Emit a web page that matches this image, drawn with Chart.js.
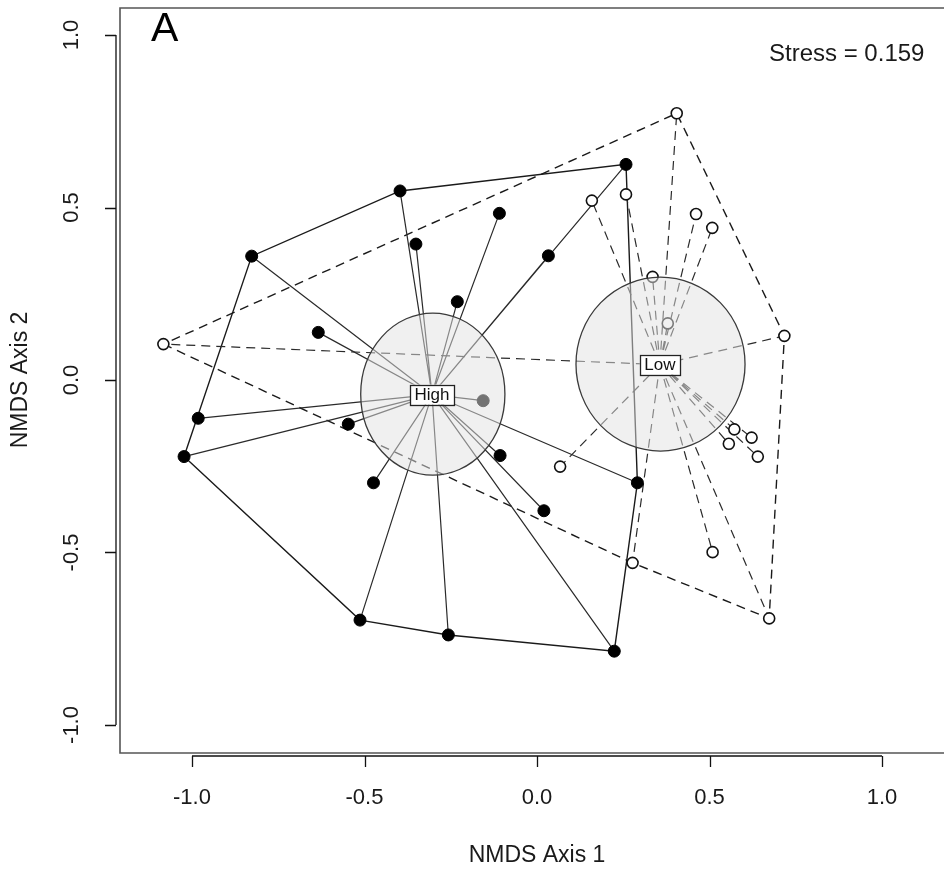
<!DOCTYPE html>
<html>
<head>
<meta charset="utf-8">
<script src="https://cdn.jsdelivr.net/npm/chart.js@4/dist/chart.umd.min.js"></script>
<style>
    html, body { margin: 0; padding: 0; background: #fff; overflow: hidden; }
    canvas { display: block; }
</style>
</head>
<body>
<canvas id="graficoNmds" width="944" height="873"></canvas>
<script>
// Valores (coordenadas NMDS)
const grupos = ['High', 'Low'];

const altoX = [-0.397, -0.827, -0.351, -0.109, -0.231, -0.634, 0.258, 0.033, -0.982, -1.023,
    -0.547, -0.474, -0.513, -0.257, -0.107, 0.291, 0.020, 0.224, -0.156];
const altoY = [0.548, 0.359, 0.394, 0.483, 0.227, 0.138, 0.625, 0.360, -0.111, -0.222,
    -0.128, -0.298, -0.696, -0.739, -0.219, -0.298, -0.379, -0.786, -0.060];

const bajoX = [-1.083, 0.405, 0.159, 0.258, 0.461, 0.508, 0.335, 0.379, 0.717,
    0.067, 0.572, 0.556, 0.622, 0.640, 0.509, 0.277, 0.673];
const bajoY = [0.104, 0.773, 0.520, 0.538, 0.481, 0.441, 0.299, 0.164, 0.128,
    -0.251, -0.143, -0.185, -0.167, -0.222, -0.499, -0.530, -0.691];

// Elipses (centro y semiejes en unidades del gráfico)
const elipseCentroX = [-0.302, 0.358];
const elipseCentroY = [-0.041, 0.046];
const elipseRadioX = [0.209, 0.245];
const elipseRadioY = [0.235, 0.252];

const ticksEjeX = [-1.0, -0.5, 0.0, 0.5, 1.0];
const ticksEjeY = [-1.0, -0.5, 0.0, 0.5, 1.0];
const tituloEjeX = 'NMDS Axis 1';
const tituloEjeY = 'NMDS Axis 2';
const textoStress = 'Stress = 0.159';
const letraPanel = 'A';

const fuente = '"Liberation Sans", Arial, Helvetica, sans-serif';

const aPuntos = (xs, ys) => xs.map((x, i) => ({ x: x, y: ys[i] }));
const puntosAlto = aPuntos(altoX, altoY);
const puntosBajo = aPuntos(bajoX, bajoY);

const centroide = (pts) => ({
    x: pts.reduce((s, p) => s + p.x, 0) / pts.length,
    y: pts.reduce((s, p) => s + p.y, 0) / pts.length
});

// Líneas de araña: centroide -> cada sitio, con un hueco entre cada una
const arania = (pts) => {
    const c = centroide(pts);
    return pts.flatMap(p => [c, p, { x: null, y: null }]);
};

// Envolvente convexa (cadena monótona), cerrada
const envolvente = (pts) => {
    const p = pts.slice().sort((a, b) => a.x - b.x || a.y - b.y);
    const cruz = (o, a, b) => (a.x - o.x) * (b.y - o.y) - (a.y - o.y) * (b.x - o.x);
    const inf = [];
    for (const q of p) {
        while (inf.length >= 2 && cruz(inf[inf.length - 2], inf[inf.length - 1], q) <= 0) inf.pop();
        inf.push(q);
    }
    const sup = [];
    for (const q of p.slice().reverse()) {
        while (sup.length >= 2 && cruz(sup[sup.length - 2], sup[sup.length - 1], q) <= 0) sup.pop();
        sup.push(q);
    }
    inf.pop();
    sup.pop();
    const h = inf.concat(sup);
    h.push(h[0]);
    return h;
};

const rayado = [9, 6];

// Plugin para dibujar elipses, etiquetas, marco y ejes al estilo R
const pluginEstiloR = {
    id: 'estiloR',
    beforeDraw(chart) {
        const c = chart.ctx;
        c.save();
        c.fillStyle = '#fff';
        c.fillRect(0, 0, chart.width, chart.height);
        c.restore();
    },
    afterDatasetsDraw(chart) {
        const c = chart.ctx;
        const sx = chart.scales.x;
        const sy = chart.scales.y;
        const area = chart.chartArea;

        // elipses semitransparentes
        c.save();
        c.beginPath();
        c.rect(area.left, area.top, area.right - area.left, area.bottom - area.top);
        c.clip();
        grupos.forEach((g, i) => {
            const cx = sx.getPixelForValue(elipseCentroX[i]);
            const cy = sy.getPixelForValue(elipseCentroY[i]);
            const rx = Math.abs(sx.getPixelForValue(elipseCentroX[i] + elipseRadioX[i]) - cx);
            const ry = Math.abs(sy.getPixelForValue(elipseCentroY[i] + elipseRadioY[i]) - cy);
            c.beginPath();
            c.ellipse(cx, cy, rx, ry, 0, 0, Math.PI * 2);
            c.fillStyle = 'rgba(225, 225, 225, 0.51)';
            c.fill();
            c.lineWidth = 1.3;
            c.strokeStyle = '#3a3a3a';
            c.stroke();
        });

        // etiquetas de grupo en el centroide
        c.font = '17px ' + fuente;
        c.textAlign = 'center';
        c.textBaseline = 'middle';
        [puntosAlto, puntosBajo].forEach((pts, i) => {
            const ce = centroide(pts);
            const px = sx.getPixelForValue(ce.x);
            const py = sy.getPixelForValue(ce.y);
            const ancho = c.measureText(grupos[i]).width + 9;
            const alto = 20;
            c.fillStyle = '#fff';
            c.fillRect(px - ancho / 2, py - alto / 2, ancho, alto);
            c.lineWidth = 1.3;
            c.strokeStyle = '#222';
            c.strokeRect(Math.round(px - ancho / 2) + 0.5, Math.round(py - alto / 2) + 0.5, Math.round(ancho), alto);
            c.fillStyle = '#111';
            c.fillText(grupos[i], px, py + 1);
        });
        c.restore();

        // marco (izquierda, arriba, abajo)
        c.save();
        c.strokeStyle = '#555';
        c.lineWidth = 1.6;
        c.beginPath();
        c.moveTo(area.right + 2, area.top);
        c.lineTo(area.left, area.top);
        c.lineTo(area.left, area.bottom);
        c.lineTo(area.right + 2, area.bottom);
        c.stroke();

        // eje X
        c.strokeStyle = '#111';
        c.lineWidth = 1.3;
        const yEje = area.bottom + 3;
        c.beginPath();
        c.moveTo(sx.getPixelForValue(ticksEjeX[0]), yEje);
        c.lineTo(sx.getPixelForValue(ticksEjeX[ticksEjeX.length - 1]), yEje);
        ticksEjeX.forEach(v => {
            const px = Math.round(sx.getPixelForValue(v)) + 0.5;
            c.moveTo(px, yEje);
            c.lineTo(px, yEje + 11);
        });
        c.stroke();

        // eje Y
        const xEje = area.left - 4;
        c.beginPath();
        c.moveTo(xEje, sy.getPixelForValue(ticksEjeY[0]));
        c.lineTo(xEje, sy.getPixelForValue(ticksEjeY[ticksEjeY.length - 1]));
        ticksEjeY.forEach(v => {
            const py = Math.round(sy.getPixelForValue(v)) + 0.5;
            c.moveTo(xEje, py);
            c.lineTo(xEje - 11, py);
        });
        c.stroke();

        // etiquetas de los ticks
        c.fillStyle = '#1a1a1a';
        c.font = '22px ' + fuente;
        c.textAlign = 'center';
        c.textBaseline = 'middle';
        ticksEjeX.forEach(v => {
            c.fillText(v.toFixed(1), sx.getPixelForValue(v), 798);
        });
        ticksEjeY.forEach(v => {
            c.save();
            c.translate(72, sy.getPixelForValue(v));
            c.rotate(-Math.PI / 2);
            c.fillText(v.toFixed(1), 0, 0);
            c.restore();
        });

        // títulos de ejes
        c.font = '23px ' + fuente;
        c.fillText(tituloEjeX, (sx.getPixelForValue(ticksEjeX[0]) + sx.getPixelForValue(ticksEjeX[4])) / 2, 856);
        c.save();
        c.translate(21, (sy.getPixelForValue(ticksEjeY[0]) + sy.getPixelForValue(ticksEjeY[4])) / 2);
        c.rotate(-Math.PI / 2);
        c.fillText(tituloEjeY, 0, 0);
        c.restore();

        // letra del panel y stress
        c.fillStyle = '#000';
        c.textAlign = 'left';
        c.font = '41px ' + fuente;
        c.fillText(letraPanel, 151, 30);
        c.fillStyle = '#1a1a1a';
        c.font = '24px ' + fuente;
        c.fillText(textoStress, 769, 54);
        c.restore();
    }
};

const ctxNmds = document.getElementById('graficoNmds').getContext('2d');
const graficoNmds = new Chart(ctxNmds, {
    type: 'scatter',
    data: {
        datasets: [
            {
                label: 'High',
                data: puntosAlto,
                pointRadius: 6,
                pointBackgroundColor: '#000',
                pointBorderColor: '#000',
                pointBorderWidth: 1,
                showLine: false
            },
            {
                label: 'Low',
                data: puntosBajo,
                pointRadius: 5.5,
                pointBackgroundColor: '#fff',
                pointBorderColor: '#111',
                pointBorderWidth: 1.6,
                showLine: false
            },
            {
                label: 'High araña',
                data: arania(puntosAlto),
                showLine: true,
                spanGaps: false,
                pointRadius: 0,
                borderColor: '#2a2a2a',
                borderWidth: 1.2
            },
            {
                label: 'Low araña',
                data: arania(puntosBajo),
                showLine: true,
                spanGaps: false,
                pointRadius: 0,
                borderColor: '#2a2a2a',
                borderWidth: 1.2,
                borderDash: rayado
            },
            {
                label: 'High envolvente',
                data: envolvente(puntosAlto),
                showLine: true,
                pointRadius: 0,
                borderColor: '#1a1a1a',
                borderWidth: 1.4
            },
            {
                label: 'Low envolvente',
                data: envolvente(puntosBajo),
                showLine: true,
                pointRadius: 0,
                borderColor: '#1a1a1a',
                borderWidth: 1.4,
                borderDash: rayado
            }
        ]
    },
    options: {
        responsive: false,
        animation: false,
        events: [],
        layout: {
            autoPadding: false,
            padding: { left: 120, top: 8, right: 0, bottom: 120 }
        },
        scales: {
            x: { type: 'linear', display: false, min: -1.2087, max: 1.1797 },
            y: { type: 'linear', display: false, min: -1.0812, max: 1.0783 }
        },
        plugins: {
            legend: { display: false },
            tooltip: { enabled: false }
        }
    },
    plugins: [pluginEstiloR]
});
</script>
</body>
</html>
